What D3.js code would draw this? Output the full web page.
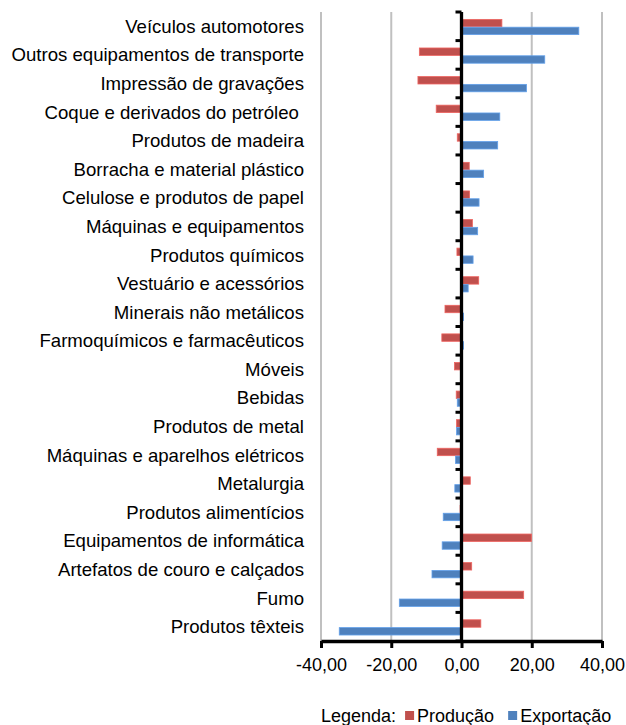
<!DOCTYPE html>
<html>
<head>
<meta charset="utf-8">
<script src="https://cdn.jsdelivr.net/npm/d3@7"></script>
<style>
  body { margin: 0; background: #fff; }
  text { font-family: "Liberation Sans", Arial, sans-serif; fill: #000; }
</style>
</head>
<body>
<svg id="chart"></svg>
<script>
// Dados
const categorias = [
    "Veículos automotores",
    "Outros equipamentos de transporte",
    "Impressão de gravações",
    "Coque e derivados do petróleo ",
    "Produtos de madeira",
    "Borracha e material plástico",
    "Celulose e produtos de papel",
    "Máquinas e equipamentos",
    "Produtos químicos",
    "Vestuário e acessórios",
    "Minerais não metálicos",
    "Farmoquímicos e farmacêuticos",
    "Móveis",
    "Bebidas",
    "Produtos de metal",
    "Máquinas e aparelhos elétricos",
    "Metalurgia",
    "Produtos alimentícios",
    "Equipamentos de informática",
    "Artefatos de couro e calçados",
    "Fumo",
    "Produtos têxteis"
];
const producao = [11.5, -12.0, -12.4, -7.2, -1.2, 2.2, 2.3, 3.1, -1.3, 4.9, -4.7, -5.6,
    -2.0, -1.5, -1.4, -6.9, 2.5, -0.4, 19.9, 2.9, 17.7, 5.5];
const exportacao = [33.4, 23.7, 18.5, 10.9, 10.3, 6.3, 5.0, 4.6, 3.3, 1.9, 0.6, 0.6,
    0.0, -1.2, -1.4, -1.7, -1.9, -5.2, -5.5, -8.4, -17.7, -34.8];
const series = ["Produção", "Exportação"];
const xTicks = [-40, -20, 0, 20, 40];

const width = 626, height = 725;
const margin = { top: 12, right: 24, bottom: 84, left: 321 };

const svg = d3.select("#chart")
    .attr("width", width)
    .attr("height", height);

// Escalas
const x = d3.scaleLinear()
    .domain([-40, 40])
    .range([margin.left, 602]);

const y = d3.scaleBand()
    .domain(categorias)
    .range([margin.top, height - margin.bottom])
    .padding(0);

const ySub = d3.scaleBand()
    .domain(series)
    .range([7, 23])
    .padding(0.05);

const cor = d3.scaleOrdinal()
    .domain(series)
    .range(["#c0504d", "#4f81bd"]);

const plotBottom = y.range()[1];

// Linhas de grade
svg.append("g")
    .selectAll("line")
    .data(xTicks.filter(d => d !== 0))
    .enter().append("line")
    .attr("x1", d => x(d))
    .attr("x2", d => x(d))
    .attr("y1", margin.top)
    .attr("y2", plotBottom)
    .attr("stroke", "#c0c0c0")
    .attr("stroke-width", 2);

// Barras
const linhas = categorias.map((c, i) => ({ categoria: c, valores: [producao[i], exportacao[i]] }));

const grupo = svg.append("g")
    .selectAll("g")
    .data(linhas)
    .enter().append("g")
    .attr("transform", d => `translate(0, ${y(d.categoria)})`);

grupo.selectAll("rect")
    .data(d => series.map((s, j) => ({ serie: s, valor: d.valores[j] })))
    .enter().append("rect")
    .attr("x", d => x(Math.min(0, d.valor)))
    .attr("y", d => ySub(d.serie))
    .attr("width", d => Math.abs(x(d.valor) - x(0)))
    .attr("height", ySub.bandwidth())
    .attr("fill", d => cor(d.serie))
    .attr("stroke", d => d3.color(cor(d.serie)).brighter(0.6))
    .attr("stroke-width", 0.8);

// Rótulos das categorias
svg.append("g")
    .selectAll("text")
    .data(categorias)
    .enter().append("text")
    .attr("x", 304)
    .attr("y", d => y(d) + y.bandwidth() / 2)
    .attr("dy", "0.35em")
    .attr("text-anchor", "end")
    .style("font-size", "18.6px")
    .style("white-space", "pre")
    .text(d => d);

// Eixo vertical (zero) com marcas entre categorias
const marcasY = categorias.map(c => y(c)).concat([plotBottom]);
svg.append("g")
    .selectAll("line")
    .data(marcasY)
    .enter().append("line")
    .attr("x1", x(0) - 6)
    .attr("x2", x(0))
    .attr("y1", d => d)
    .attr("y2", d => d)
    .attr("stroke", "#000")
    .attr("stroke-width", 3);

svg.append("line")
    .attr("x1", x(0))
    .attr("x2", x(0))
    .attr("y1", margin.top)
    .attr("y2", plotBottom)
    .attr("stroke", "#000")
    .attr("stroke-width", 3.3);

// Eixo horizontal
const eixoX = svg.append("g")
    .attr("transform", `translate(0, ${plotBottom})`)
    .call(d3.axisBottom(x)
        .tickValues(xTicks)
        .tickSize(7)
        .tickSizeOuter(0)
        .tickPadding(10)
        .tickFormat(d => d3.format(".2f")(d).replace(".", ",").replace("−", "-")));

eixoX.select(".domain").attr("stroke", "#000").attr("stroke-width", 3.3);
eixoX.selectAll(".tick line").attr("stroke", "#000").attr("stroke-width", 3);
eixoX.selectAll(".tick text")
    .style("font-size", "18px")
    .style("font-family", "'Liberation Sans', Arial, sans-serif")
    .attr("fill", "#000");

// Legenda
const legenda = svg.append("g").attr("transform", "translate(321, 722)");
let lx = 0;
const t0 = legenda.append("text").attr("x", lx).style("font-size", "18px").text("Legenda:");
lx += t0.node().getComputedTextLength() + 9;
series.forEach(s => {
    legenda.append("rect")
        .attr("x", lx)
        .attr("y", -11)
        .attr("width", 9)
        .attr("height", 9)
        .attr("fill", cor(s));
    lx += 12;
    const t = legenda.append("text").attr("x", lx).style("font-size", "18px").text(s);
    lx += t.node().getComputedTextLength() + 14;
});
</script>
</body>
</html>
